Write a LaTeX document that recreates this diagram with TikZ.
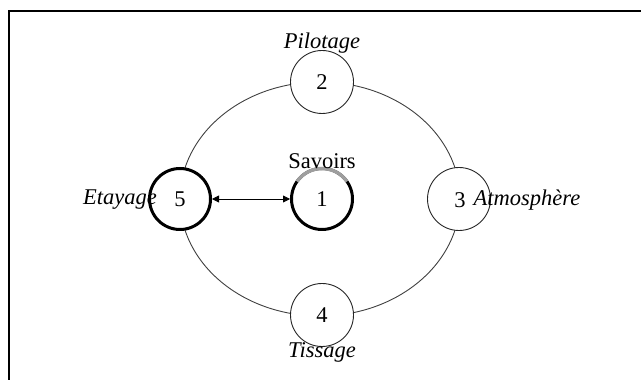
\documentclass[tikz,border=0pt]{standalone}
\usepackage{fontspec}
\setmainfont{Liberation Serif}
\usetikzlibrary{arrows.meta,calc}
\begin{document}
\begin{tikzpicture}[x=1pt,y=1pt,
  every node/.style={font=\fontsize{22.5}{26}\selectfont},
  ring/.style={draw=black!75, line width=0.9pt},
  thin circ/.style={circle, draw=black!85, line width=0.9pt, fill=white, minimum size=63pt, inner sep=0pt},
  thick circ/.style={circle, draw=black, line width=3pt, fill=white, minimum size=61pt, inner sep=0pt},
  lbl/.style={inner sep=0pt, font=\fontsize{22.5}{26}\selectfont\itshape}]
\useasboundingbox (0,0) rectangle (641,380);
\draw[line width=1.6pt] (9,369) rectangle (660,-20);
\coordinate (c) at (320,181);
\draw[ring] (c) ellipse [x radius=140pt, y radius=117pt];
\node[thin circ] (n2) at (322,298) {2};
\node[thin circ] (n4) at (322,65) {4};
\node[thin circ] (n3) at (459,181) {};
\node[thick circ] (n5) at (180,181) {5};
\node[thick circ] (n1) at (322,181) {1};
\draw[black!38, line width=3.4pt] ($(n1.center)+(35:30.5)$) arc[start angle=35, end angle=145, radius=30.5pt];
\draw[{Triangle[length=7pt,width=7pt]}-{Triangle[length=7pt,width=7pt]}, line width=0.8pt] (n5.east) -- (n1.west);
\node[inner sep=0pt] (t3) at (460,180) {3};
\node[lbl] (atm) at (527,180) {Atmosphère};
\node[lbl] (eta) at (120,180) {Etayage};
\node[lbl] (pil) at (322,337) {Pilotage};
\node[lbl] (tis) at (322,28) {Tissage};
\node[inner sep=0pt] (sav) at (322,219) {Savoirs};
\end{tikzpicture}
\end{document}
